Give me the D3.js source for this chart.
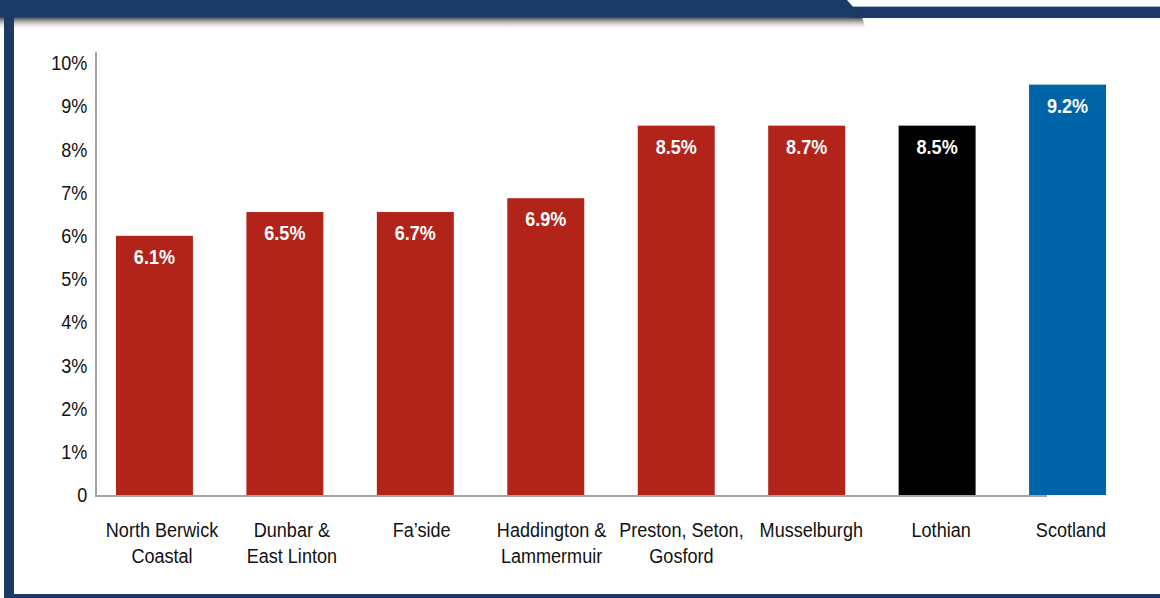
<!DOCTYPE html>
<html>
<head>
<meta charset="utf-8">
<script src="https://cdn.jsdelivr.net/npm/d3@7"></script>
<style>
  body { margin: 0; background: #fff; }
  svg { display: block; }
  text { font-family: "Liberation Sans", Arial, sans-serif; }
</style>
</head>
<body>
<svg id="drawing_region"></svg>
<script>
// data
const categories = [["North Berwick", "Coastal"], ["Dunbar &", "East Linton"], ["Fa’side"],
    ["Haddington &", "Lammermuir"], ["Preston, Seton,", "Gosford"], ["Musselburgh"], ["Lothian"], ["Scotland"]];
const barValues = [6.0, 6.55, 6.55, 6.87, 8.55, 8.55, 8.55, 9.5];   // bar heights as drawn
const valueLabels = ["6.1%", "6.5%", "6.7%", "6.9%", "8.5%", "8.7%", "8.5%", "9.2%"];
const barColors = ["#b22319", "#b22319", "#b22319", "#b22319", "#b22319", "#b22319", "#000000", "#0064a8"];
const yTicks = [0, 1, 2, 3, 4, 5, 6, 7, 8, 9, 10];

const W = 1160, H = 598;
const navy = "#1b3b66";
const narrow = 0.86;   // condensed look of the original typeface

const svg = d3.select("#drawing_region").attr("width", W).attr("height", H);

// frame
const defs = svg.append("defs");
const grad = defs.append("linearGradient").attr("id", "shadow").attr("x1", 0).attr("y1", 0).attr("x2", 0).attr("y2", 1);
grad.append("stop").attr("offset", "0%").attr("stop-color", "#222").attr("stop-opacity", 0.9);
grad.append("stop").attr("offset", "100%").attr("stop-color", "#fff").attr("stop-opacity", 0);

svg.append("polygon").attr("points", "0,17 862,17 866,30 0,30").attr("fill", "url(#shadow)");
svg.append("rect").attr("x", 850).attr("y", 6).attr("width", 310).attr("height", 1.5).attr("fill", "#a9b8cc");
svg.append("rect").attr("x", 850).attr("y", 7).attr("width", 310).attr("height", 11).attr("fill", navy);
svg.append("polygon").attr("points", "0,0 847,0 862,17 0,17").attr("fill", navy);
svg.append("rect").attr("x", 4).attr("y", 17).attr("width", 10).attr("height", H - 17).attr("fill", navy);
svg.append("rect").attr("x", 4).attr("y", 594).attr("width", W - 4).attr("height", 4).attr("fill", navy);

// scales
const x = d3.scaleBand()
    .domain(d3.range(categories.length))
    .range([96, 1126])
    .paddingInner(0.41)
    .paddingOuter(0.153);

// category text sits slightly right of the bars in the original
const xl = d3.scalePoint()
    .domain(d3.range(categories.length))
    .range([162, 1071]);

const y = d3.scaleLinear()
    .domain([0, 10])
    .range([495, 63]);

const chart = svg.append("g");

// bars
chart.selectAll("rect.bar")
    .data(barValues)
    .enter()
    .append("rect")
    .attr("class", "bar")
    .attr("x", (d, i) => x(i))
    .attr("y", d => y(d))
    .attr("width", x.bandwidth())
    .attr("height", d => y(0) - y(d))
    .attr("fill", (d, i) => barColors[i]);

// value labels
chart.selectAll("g.val")
    .data(barValues)
    .enter()
    .append("g")
    .attr("class", "val")
    .attr("transform", (d, i) => `translate(${x(i) + x.bandwidth() / 2},${y(d) + 28}) scale(${narrow},1)`)
    .append("text")
    .attr("text-anchor", "middle")
    .attr("fill", "#fff")
    .attr("font-weight", "bold")
    .attr("font-size", 21)
    .text((d, i) => valueLabels[i]);

// y axis
const yaxis = d3.axisLeft(y)
    .tickValues(yTicks)
    .tickSize(0)
    .tickPadding(10)
    .tickFormat(d => d === 0 ? "0" : d + "%");

const yg = chart.append("g")
    .attr("transform", "translate(96,0)")
    .call(yaxis);
yg.select(".domain").remove();
yg.selectAll("text")
    .attr("font-size", 21)
    .attr("fill", "#111")
    .attr("font-family", null)
    .attr("transform", `scale(${narrow},1)`);

chart.append("line")
    .attr("x1", 96).attr("x2", 96)
    .attr("y1", 52).attr("y2", y(0) + 1)
    .attr("stroke", "#a3a3a6").attr("stroke-width", 2);
chart.append("line")
    .attr("x1", 95).attr("x2", 1047)
    .attr("y1", y(0) + 1).attr("y2", y(0) + 1)
    .attr("stroke", "#a3a3a6").attr("stroke-width", 2);

// category labels
const cat = chart.selectAll("g.cat")
    .data(categories)
    .enter()
    .append("g")
    .attr("class", "cat")
    .attr("transform", (d, i) => `translate(${xl(i)},537) scale(${narrow},1)`)
    .append("text")
    .attr("text-anchor", "middle")
    .attr("font-size", 21)
    .attr("fill", "#111");

cat.selectAll("tspan")
    .data(d => d)
    .enter()
    .append("tspan")
    .attr("x", 0)
    .attr("dy", (d, i) => i === 0 ? 0 : 26)
    .text(d => d);
</script>
</body>
</html>
